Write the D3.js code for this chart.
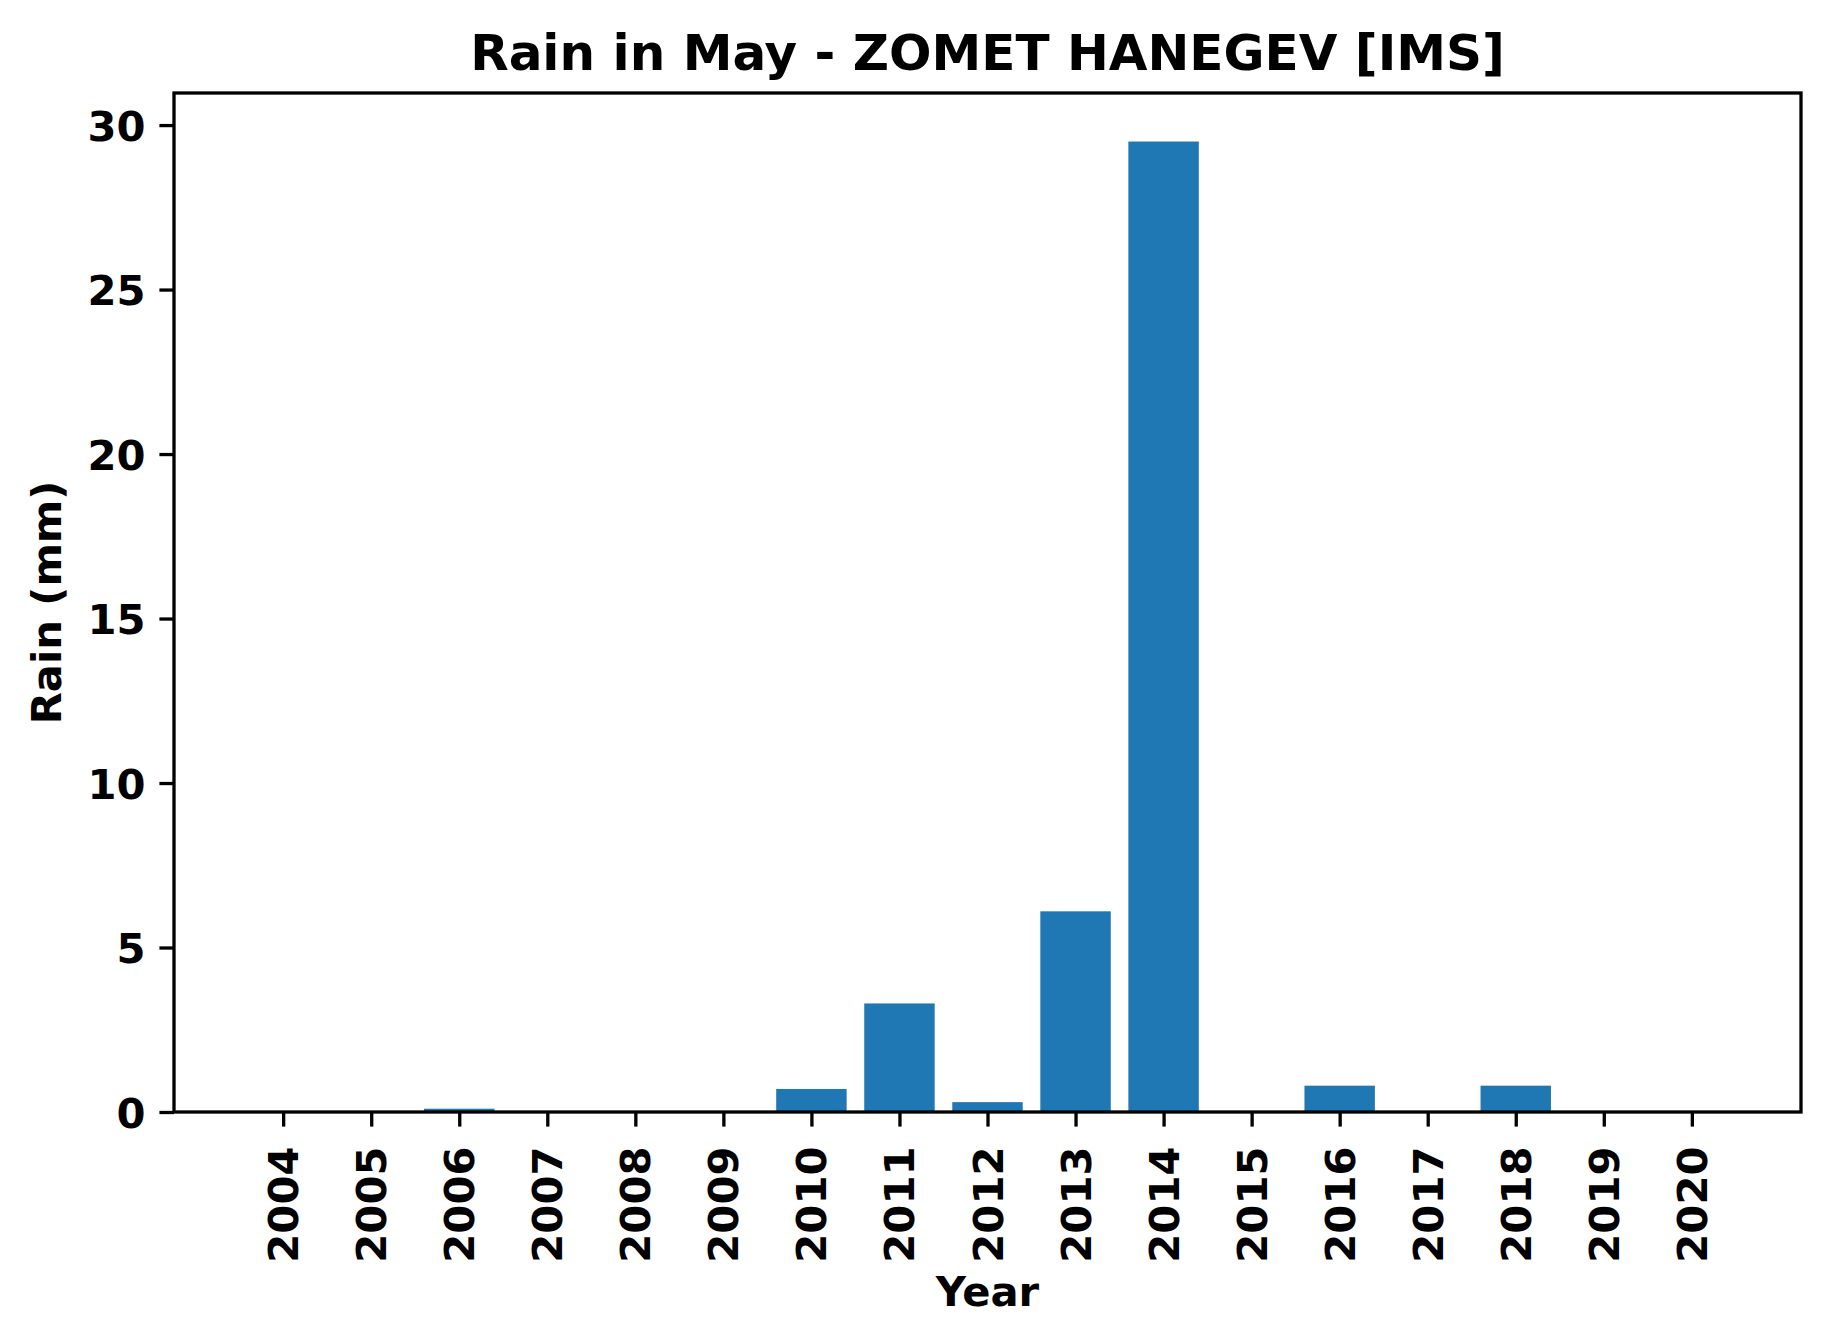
<!DOCTYPE html>
<html>
<head>
<meta charset="utf-8">
<script src="https://cdn.jsdelivr.net/npm/d3@7"></script>
<style>
  html, body { margin: 0; padding: 0; background: #fff; }
  svg { display: block; }
  text { font-family: "DejaVu Sans", sans-serif; font-weight: bold; fill: #000; }
</style>
</head>
<body>
<script>
const years = ["2004","2005","2006","2007","2008","2009","2010","2011","2012","2013","2014","2015","2016","2017","2018","2019","2020"];
const rain  = [0, 0, 0.1, 0, 0, 0, 0.7, 3.3, 0.3, 6.1, 29.5, 0, 0.8, 0, 0.8, 0, 0];
const yTicks = [0, 5, 10, 15, 20, 25, 30];
const titleText = "Rain in May - ZOMET HANEGEV [IMS]";
const xLabel = "Year";
const yLabel = "Rain (mm)";

(function () {
const W = 1831, H = 1344;
const pL = 174, pR = 1801, pT = 93, pB = 1112;
const barW = 0.8;
const fs = 41.7, titleFs = 50;

const svg = d3.select("body").append("svg").attr("width", W).attr("height", H);

// matplotlib-like auto limits with 5% margins
const xmin = -barW / 2, xmax = years.length - 1 + barW / 2;
const xm = (xmax - xmin) * 0.05;
const x = d3.scaleLinear().domain([xmin - xm, xmax + xm]).range([pL, pR]);
const ymaxData = d3.max(rain);
const y = d3.scaleLinear().domain([0, ymaxData * 1.05]).range([pB, pT]);

// bars
svg.append("g").selectAll("rect").data(rain).join("rect")
  .attr("x", (d, i) => x(i - barW / 2))
  .attr("width", (d, i) => x(i + barW / 2) - x(i - barW / 2))
  .attr("y", d => y(d))
  .attr("height", d => y(0) - y(d))
  .attr("fill", "#1f77b4");

// axes
const tickLen = 14.6, tickPadX = 20, tickPadY = 14;
const xAxis = d3.axisBottom(x)
  .tickValues(d3.range(years.length))
  .tickFormat(i => years[i])
  .tickSize(tickLen).tickPadding(tickPadX);
const gx = svg.append("g").attr("transform", `translate(0,${pB})`).call(xAxis);
gx.select(".domain").remove();
gx.selectAll(".tick line").attr("stroke", "#000").attr("stroke-width", 3.3);
gx.selectAll(".tick text")
  .attr("font-size", fs)
  .attr("font-family", "DejaVu Sans")
  .attr("font-weight", "bold")
  .attr("y", null).attr("dy", null).attr("x", 0)
  .attr("text-anchor", "end")
  .attr("dominant-baseline", "central")
  .attr("transform", `translate(0,${tickLen + tickPadX}) rotate(-90)`);

const yAxis = d3.axisLeft(y).tickValues(yTicks).tickFormat(d3.format("d"))
  .tickSize(tickLen).tickPadding(tickPadY);
const gy = svg.append("g").attr("transform", `translate(${pL},0)`).call(yAxis);
gy.select(".domain").remove();
gy.selectAll(".tick line").attr("stroke", "#000").attr("stroke-width", 3.3);
gy.selectAll(".tick text")
  .attr("font-size", fs)
  .attr("font-family", "DejaVu Sans")
  .attr("font-weight", "bold")
  .attr("dy", "0.36em");

// frame (spines)
svg.append("rect")
  .attr("x", pL).attr("y", pT)
  .attr("width", pR - pL).attr("height", pB - pT)
  .attr("fill", "none").attr("stroke", "#000").attr("stroke-width", 3.3);

// title
svg.append("text")
  .attr("x", (pL + pR) / 2).attr("y", 70)
  .attr("text-anchor", "middle")
  .attr("font-size", titleFs)
  .text(titleText);

// axis labels
svg.append("text")
  .attr("x", (pL + pR) / 2).attr("y", 1306)
  .attr("text-anchor", "middle")
  .attr("font-size", fs)
  .text(xLabel);

svg.append("text")
  .attr("transform", `translate(61,${(pT + pB) / 2}) rotate(-90)`)
  .attr("text-anchor", "middle")
  .attr("font-size", fs)
  .text(yLabel);
})();
</script>
</body>
</html>
